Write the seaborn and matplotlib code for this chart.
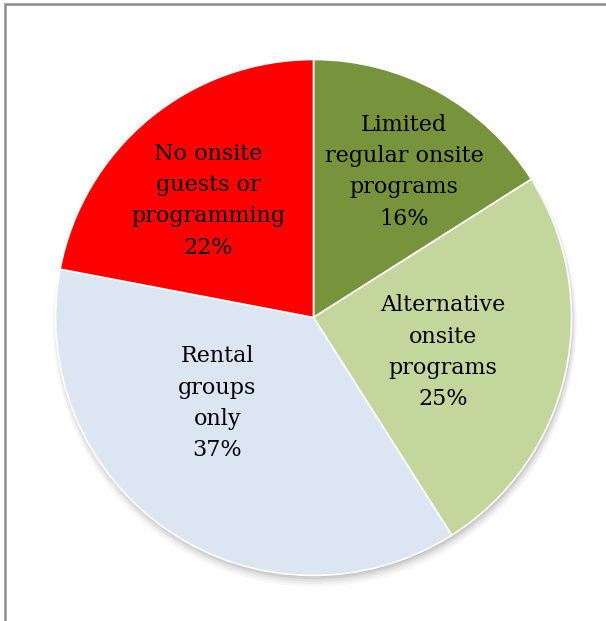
import matplotlib
matplotlib.use("Agg")
import matplotlib.pyplot as plt
from matplotlib.patches import Circle, Rectangle
import numpy as np
import seaborn as sns

# slices, clockwise from 12 o'clock
labels = ["Limited\nregular onsite\nprograms", "Alternative\nonsite\nprograms",
          "Rental\ngroups\nonly", "No onsite\nguests or\nprogramming"]
shares = [16, 25, 37, 22]
colors = ["#77933C", "#C3D69B", "#DCE6F2", "#FF0000"]
# label placement as (fraction of radius, degrees off the slice middle)
label_r = [0.665, 0.52, 0.50, 0.61]
label_off = [-3.0, -2.5, -14.0, 2.5]

sns.set_theme(style="white")
plt.rcParams["font.family"] = ["DejaVu Serif"]

fig = plt.figure(figsize=(6.06, 6.21), dpi=100)
ax = fig.add_axes([0.0916, 0.0733, 0.8515, 0.8309])

# soft drop shadow under the pie
for i, a in enumerate([0.04, 0.05, 0.07, 0.10, 0.14]):
    ax.add_patch(Circle((0.005, -0.028 + 0.0045 * i), 1.015 - 0.005 * i,
                        color="#444444", alpha=a, lw=0, zorder=0,
                        clip_on=False))

wedges, _ = ax.pie(shares, colors=sns.color_palette(colors), startangle=90,
                   counterclock=False, radius=1.0,
                   wedgeprops=dict(edgecolor="white", linewidth=1.2))
for w in wedges:
    w.set_zorder(2)
    w.set_clip_on(False)

for w, lab, v, r, off in zip(wedges, labels, shares, label_r, label_off):
    mid = np.deg2rad((w.theta1 + w.theta2) / 2 + off)
    ax.text(r * np.cos(mid), r * np.sin(mid), f"{lab}\n{v}%",
            ha="center", va="center", fontsize=16, linespacing=1.55,
            color="black", zorder=3)

ax.set_xlim(-1, 1)
ax.set_ylim(-1, 1)
ax.set_aspect("auto")
ax.axis("off")

# chart frame, cut off at the right and bottom
fig.patches.append(Rectangle((5 / 606, -0.1), 1.2, 1 - 4 / 621 + 0.1,
                             transform=fig.transFigure, fill=False,
                             edgecolor="#8c8c8c", linewidth=1.8))

fig.savefig("out.png", dpi=100)
